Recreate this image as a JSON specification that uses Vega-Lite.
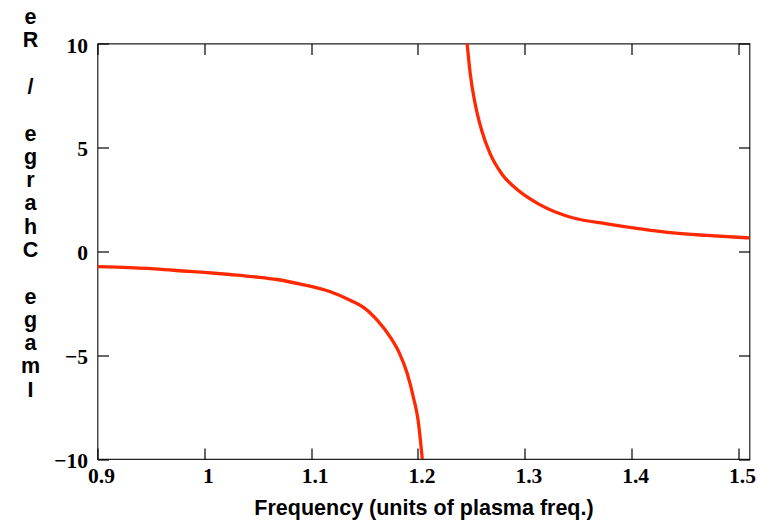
{
  "$schema": "https://vega.github.io/schema/vega-lite/v6.json",
  "autosize": {"type": "none"},
  "width": 652,
  "height": 415.5,
  "padding": {"left": 97.5, "top": 43.5, "right": 8.5, "bottom": 61},
  "background": "white",
  "data": {
    "values": [
      {"freq": 0.900, "value": -0.74, "branch": "below"},
      {"freq": 0.930, "value": -0.79, "branch": "below"},
      {"freq": 0.960, "value": -0.87, "branch": "below"},
      {"freq": 0.980, "value": -0.95, "branch": "below"},
      {"freq": 1.000, "value": -1.02, "branch": "below"},
      {"freq": 1.024, "value": -1.12, "branch": "below"},
      {"freq": 1.049, "value": -1.24, "branch": "below"},
      {"freq": 1.068, "value": -1.36, "branch": "below"},
      {"freq": 1.090, "value": -1.58, "branch": "below"},
      {"freq": 1.118, "value": -1.95, "branch": "below"},
      {"freq": 1.137, "value": -2.37, "branch": "below"},
      {"freq": 1.149, "value": -2.70, "branch": "below"},
      {"freq": 1.162, "value": -3.33, "branch": "below"},
      {"freq": 1.174, "value": -4.13, "branch": "below"},
      {"freq": 1.183, "value": -4.95, "branch": "below"},
      {"freq": 1.190, "value": -5.90, "branch": "below"},
      {"freq": 1.196, "value": -7.10, "branch": "below"},
      {"freq": 1.200, "value": -8.10, "branch": "below"},
      {"freq": 1.204, "value": -10.0, "branch": "below"},
      {"freq": 1.246, "value": 10.0, "branch": "above"},
      {"freq": 1.249, "value": 8.50, "branch": "above"},
      {"freq": 1.2535, "value": 7.10, "branch": "above"},
      {"freq": 1.2597, "value": 5.80, "branch": "above"},
      {"freq": 1.2675, "value": 4.70, "branch": "above"},
      {"freq": 1.2785, "value": 3.72, "branch": "above"},
      {"freq": 1.294, "value": 2.92, "branch": "above"},
      {"freq": 1.3127, "value": 2.28, "branch": "above"},
      {"freq": 1.3377, "value": 1.72, "branch": "above"},
      {"freq": 1.3455, "value": 1.60, "branch": "above"},
      {"freq": 1.3768, "value": 1.32, "branch": "above"},
      {"freq": 1.408, "value": 1.08, "branch": "above"},
      {"freq": 1.4391, "value": 0.88, "branch": "above"},
      {"freq": 1.4704, "value": 0.76, "branch": "above"},
      {"freq": 1.5103, "value": 0.64, "branch": "above"}
    ]
  },
  "layer": [
    {
      "mark": {"type": "line", "color": "#ff2800", "strokeWidth": 3.3, "interpolate": "monotone", "clip": true},
      "encoding": {
        "x": {
          "field": "freq", "type": "quantitative",
          "scale": {"domain": [0.9, 1.5103], "nice": false, "zero": false},
          "axis": {
            "orient": "bottom",
            "values": [0.9, 1, 1.1, 1.2, 1.3, 1.4, 1.5],
            "format": "~g",
            "title": "Frequency (units of plasma freq.)",
            "titleBaseline": "alphabetic",
            "titleY": 55.5,
            "labelFlush": false,
            "labelOffset": 3.5,
            "labelPadding": 17,
            "labelBaseline": "top"
          }
        },
        "y": {
          "field": "value", "type": "quantitative",
          "scale": {"domain": [-10, 10], "nice": false},
          "axis": {
            "orient": "left",
            "values": [-10, -5, 0, 5, 10],
            "title": ["e", "R", "\u200b", "/", "\u200b", "e", "g", "r", "a", "h", "C", "\u200b", "e", "g", "a", "m", "I"],
            "titleAngle": 0,
            "titleAlign": "center",
            "titleBaseline": "alphabetic",
            "titleLineHeight": 23.3,
            "titleX": -67.5,
            "titleY": -20,
            "labelFlush": false,
            "labelOffset": 2.5,
            "labelPadding": 21
          }
        },
        "detail": {"field": "branch"}
      }
    },
    {
      "mark": {"type": "line", "opacity": 0},
      "encoding": {
        "x": {
          "field": "freq", "type": "quantitative",
          "axis": {"orient": "top", "values": [0.9, 1, 1.1, 1.2, 1.3, 1.4, 1.5], "labels": false, "title": null}
        },
        "y": {
          "field": "value", "type": "quantitative",
          "axis": {"orient": "right", "values": [-10, -5, 0, 5, 10], "labels": false, "title": null}
        },
        "detail": {"field": "branch"}
      }
    }
  ],
  "resolve": {"axis": {"x": "independent", "y": "independent"}},
  "config": {
    "view": {"stroke": "#222222", "strokeWidth": 1.2},
    "axis": {
      "domain": false,
      "grid": false,
      "ticks": true,
      "tickSize": -11,
      "tickColor": "#000000",
      "tickWidth": 1.2,
      "labelFont": "Liberation Serif",
      "labelFontWeight": "bold",
      "labelFontSize": 21.5,
      "labelColor": "#000000",
      "titleFont": "Liberation Sans",
      "titleFontWeight": "bold",
      "titleFontSize": 21.5,
      "titleColor": "#000000"
    }
  }
}
